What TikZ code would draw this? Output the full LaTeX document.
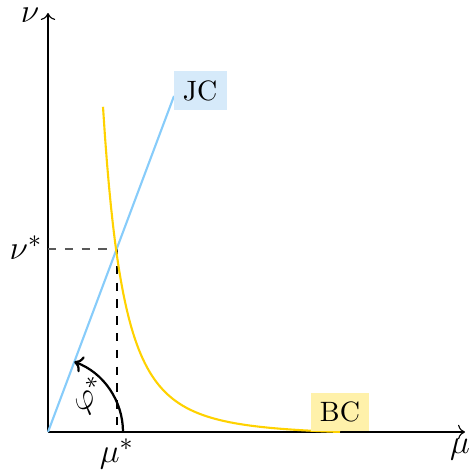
\documentclass[tikz,border=0pt]{standalone}
\usetikzlibrary{arrows.meta}
\definecolor{jcblue}{RGB}{135,204,250}
\definecolor{jcfill}{RGB}{214,234,250}
\definecolor{bcyellow}{RGB}{255,210,0}
\definecolor{bcfill}{RGB}{255,241,170}
\tikzset{
  axis/.style={->, line width=0.4pt},
  guide/.style={dashed, line width=0.4pt},
  curveline/.style={line width=0.75pt},
  lab/.style={inner sep=0pt, font=\fontsize{13}{15}\selectfont},
}
\begin{document}
\begin{tikzpicture}[x=0.357pt,y=-0.357pt]
\useasboundingbox (0,0) rectangle (475,471);
\coordinate (O) at (48,432);
\coordinate (Ytip) at (48,13);
\coordinate (Xtip) at (465,432);
\coordinate (P) at (117,249);
\coordinate (Py) at (48,249);
\coordinate (Px) at (117,432);
\coordinate (J) at (174,96);
\coordinate (B) at (340,432);
\coordinate (A0) at (123,432);
% axes
\draw[axis] (O) -- (Ytip);
\draw[axis] (O) -- (Xtip);
% dashed guides
\draw[guide, black!65] (Py) -- (P);
\draw[guide] (P) -- (Px);
% JC line
\draw[curveline, jcblue] (O) -- (J);
% BC curve
\draw[curveline, bcyellow, line join=round] plot[domain=55:292, samples=120]
  ({48+\x},{432-186.7*(68/\x)^2.67+3.74});
% angle arc
\draw[thick, -{To[length=3pt,width=6pt]}] (A0) arc[start angle=0, end angle=-69.5, radius=75];
% labels
\node[fill=jcfill, anchor=west, inner sep=3.3pt] (jc) at (173,90.5) {JC};
\node[fill=bcfill, anchor=south, inner sep=3.3pt] (bc) at (B) {BC};
\node[lab] (nu) at (30,15) {$\nu$};
\node[lab] (mu) at (460,450) {$\mu$};
\node[lab, anchor=east] (nustar) at (43,248) {$\nu^*$};
\node[lab] (mustar) at (117,454) {$\mu^*$};
\node[lab, rotate=38] (phi) at (90,396) {$\varphi^*$};
\end{tikzpicture}
\end{document}
